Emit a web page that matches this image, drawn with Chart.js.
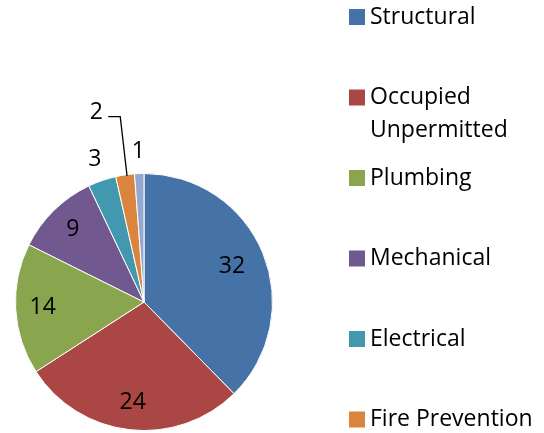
<!DOCTYPE html>
<html>
<head>
<meta charset="utf-8">
<script src="https://cdn.jsdelivr.net/npm/chart.js@4.4.0/dist/chart.umd.min.js"></script>
<style>
html,body{margin:0;padding:0;background:#fff;}
canvas{display:block;}
</style>
</head>
<body>
<canvas id="c" width="544" height="433"></canvas>
<script>
const categories = ['Structural', ['Occupied', 'Unpermitted'], 'Plumbing', 'Mechanical', 'Electrical', 'Fire Prevention', 'Other'];
const counts = [32, 24, 14, 9, 3, 2, 1];
const colors = ['#4572A7', '#AA4643', '#89A54E', '#71588F', '#4198AF', '#DB843D', '#93A9CF'];

const FONT = '23px "Open Sans", sans-serif';

const labelPlugin = {
  id: 'sliceLabels',
  afterDatasetsDraw(chart) {
    const ctx = chart.ctx;
    const meta = chart.getDatasetMeta(0);
    const data = chart.data.datasets[0].data;
    const total = data.reduce((a, b) => a + b, 0);
    ctx.save();
    ctx.font = FONT;
    ctx.fillStyle = '#000';
    ctx.textAlign = 'center';
    ctx.textBaseline = 'middle';
    meta.data.forEach((arc, i) => {
      const mid = (arc.startAngle + arc.endAngle) / 2;
      const r = arc.outerRadius;
      const dx = Math.cos(mid), dy = Math.sin(mid);
      const frac = data[i] / total;
      let x, y;
      if (frac >= 0.05) {
        const k = i === 0 ? 0.74 : 0.79;
        x = arc.x + dx * r * k;
        y = arc.y + dy * r * k;
      } else if (i === 5) {
        x = arc.x + dx * (r + 60) - 20;
        y = arc.y + dy * (r + 60) - 3;
        ctx.strokeStyle = '#000';
        ctx.lineWidth = 1.3;
        ctx.beginPath();
        ctx.moveTo(x + 12, y + 4);
        ctx.lineTo(x + 24, y + 4);
        ctx.lineTo(arc.x + dx * r + 2, arc.y + dy * r + 1);
        ctx.stroke();
      } else {
        x = arc.x + dx * (r + 22);
        y = arc.y + dy * (r + 22);
      }
      ctx.fillText(String(data[i]), x, y);
    });
    ctx.restore();
  }
};

const legendPlugin = {
  id: 'sideLegend',
  afterDraw(chart) {
    const ctx = chart.ctx;
    const labels = chart.data.labels;
    const bg = chart.data.datasets[0].backgroundColor;
    ctx.save();
    ctx.font = FONT;
    ctx.textBaseline = 'middle';
    ctx.textAlign = 'left';
    labels.forEach((lab, i) => {
      const yc = 17 + i * 80.5;
      ctx.fillStyle = bg[i];
      ctx.fillRect(349, yc - 8, 16, 16);
      ctx.fillStyle = '#000';
      const lines = Array.isArray(lab) ? lab : [lab];
      lines.forEach((t, j) => ctx.fillText(t, 370, yc + j * 33));
    });
    ctx.restore();
  }
};

new Chart(document.getElementById('c'), {
  type: 'pie',
  data: {
    labels: categories,
    datasets: [{
      data: counts,
      backgroundColor: colors,
      borderColor: '#ffffff',
      borderWidth: 1
    }]
  },
  options: {
    responsive: false,
    animation: false,
    devicePixelRatio: 1,
    layout: { padding: { left: 15, top: 173, right: 271, bottom: 2 } },
    plugins: {
      legend: { display: false },
      tooltip: { enabled: false }
    }
  },
  plugins: [labelPlugin, legendPlugin]
});
</script>
</body>
</html>
